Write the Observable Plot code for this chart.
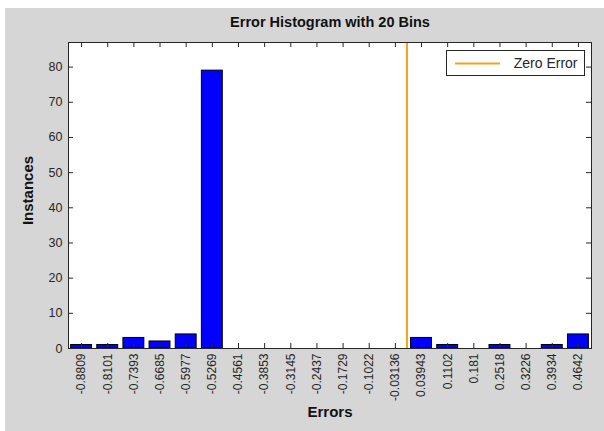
<!DOCTYPE html>
<html>
<head>
<meta charset="utf-8">
<script src="https://cdn.jsdelivr.net/npm/d3@7"></script>
<script src="https://cdn.jsdelivr.net/npm/@observablehq/plot@0.6"></script>
<style>
  html, body { margin: 0; padding: 0; background: #ffffff; }
  #wrap { padding: 8px 0 0 5px; width: 599px; height: 423px; }
  #wrap svg { background: #d6d6d6; display: block; }
</style>
</head>
<body>
<div id="wrap"></div>
<script>
// Bin centers (tick labels) and counts
const binLabels = ["-0.8809","-0.8101","-0.7393","-0.6685","-0.5977","-0.5269","-0.4561","-0.3853","-0.3145","-0.2437","-0.1729","-0.1022","-0.03136","0.03943","0.1102","0.181","0.2518","0.3226","0.3934","0.4642"];
const binCounts = [1, 1, 3, 2, 4, 79, 0, 0, 0, 0, 0, 0, 0, 3, 1, 0, 1, 0, 1, 4];
const yTicks = [0, 10, 20, 30, 40, 50, 60, 70, 80];
const legendLabel = "Zero Error";
const titleText = "Error Histogram with 20 Bins";
const xLabel = "Errors";
const yLabel = "Instances";

const centers = binLabels.map(Number);
const binW = (centers[centers.length - 1] - centers[0]) / (centers.length - 1);
const xMin = centers[0] - binW / 2, xMax = centers[centers.length - 1] + binW / 2;
const yMax = 87;
const bars = centers.map((c, i) => ({c, n: binCounts[i]})).filter(d => d.n > 0);

const W = 599, H = 423;
const mL = 63, mR = 13, mT = 34, mB = 83;
const pxX = (xMax - xMin) / (W - mL - mR); // data units per px
const pxY = yMax / (H - mT - mB);
const tk = 5;
const ink = "#262626";
const orange = "#f2a516";

const chart = Plot.plot({
  width: W, height: H,
  marginLeft: mL, marginRight: mR, marginTop: mT, marginBottom: mB,
  style: {fontFamily: "Liberation Sans, Arial, sans-serif", color: ink, background: "#d6d6d6"},
  x: {domain: [xMin, xMax]},
  y: {domain: [0, yMax]},
  marks: [
    Plot.frame({fill: "white"}),
    Plot.rectY(bars, {x1: d => d.c - 0.4 * binW, x2: d => d.c + 0.4 * binW, y1: 0, y2: "n", fill: "#0000ff", stroke: "#000", strokeWidth: 1}),
    Plot.ruleX([0], {stroke: orange, strokeWidth: 2}),
    // inward ticks
    Plot.ruleX(centers, {y1: 0, y2: tk * pxY, stroke: ink}),
    Plot.ruleX(centers, {y1: yMax - tk * pxY, y2: yMax, stroke: ink}),
    Plot.ruleY(yTicks, {x1: xMin, x2: xMin + tk * pxX, stroke: ink}),
    Plot.ruleY(yTicks, {x1: xMax - tk * pxX, x2: xMax, stroke: ink}),
    Plot.axisX({ticks: centers, tickFormat: (d, i) => binLabels[i], tickRotate: -90, tickSize: 0, tickPadding: 5, fontSize: 12, label: null}),
    Plot.axisY({ticks: yTicks, tickSize: 0, tickPadding: 6, fontSize: 12.5, label: null}),
    // legend
    Plot.frame({fill: "white", stroke: ink, insetLeft: 378, insetRight: 7, insetTop: 8, insetBottom: 273}),
    Plot.ruleY([yMax - 21 * pxY], {stroke: orange, strokeWidth: 2, insetLeft: 387, insetRight: 91}),
    Plot.text([legendLabel], {frameAnchor: "top-right", dx: -14, dy: 21, textAnchor: "end", lineAnchor: "middle", fontSize: 14, fill: ink}),
    // titles
    Plot.text([titleText], {frameAnchor: "top", dy: -20, lineAnchor: "middle", fontSize: 14.5, fontWeight: "bold", fill: "#111"}),
    Plot.text([xLabel], {frameAnchor: "bottom", dy: 64, lineAnchor: "middle", fontSize: 15, fontWeight: "bold", fill: "#111"}),
    Plot.text([yLabel], {frameAnchor: "left", dx: -40, dy: -5, rotate: -90, textAnchor: "middle", lineAnchor: "middle", fontSize: 15, fontWeight: "bold", fill: "#111"}),
    Plot.frame({stroke: ink})
  ]
});
document.getElementById("wrap").appendChild(chart);
</script>
</body>
</html>
